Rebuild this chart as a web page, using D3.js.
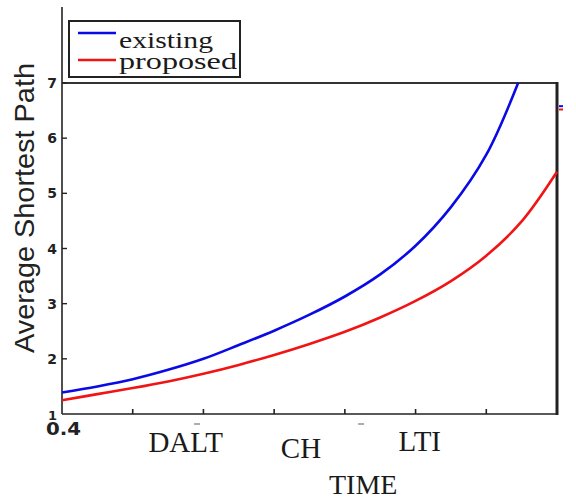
<!DOCTYPE html>
<html>
<head>
<meta charset="utf-8">
<script src="https://cdn.jsdelivr.net/npm/d3@7"></script>
<style>
  body { margin: 0; background: #fff; }
  svg { display: block; }
</style>
</head>
<body>
<svg id="chart" width="576" height="497"></svg>
<script>
// values
const timeX     = [0.4, 0.45, 0.5, 0.55, 0.6, 0.65, 0.7, 0.75, 0.8, 0.85, 0.9, 0.95, 1.0, 1.045];
const existing  = [1.39, 1.5, 1.63, 1.8, 2.0, 2.25, 2.51, 2.8, 3.13, 3.53, 4.05, 4.75, 5.7, 7.0];

const timeX2    = [0.4, 0.45, 0.5, 0.55, 0.6, 0.65, 0.7, 0.75, 0.8, 0.85, 0.9, 0.95, 1.0, 1.05, 1.1];
const proposed  = [1.25, 1.36, 1.47, 1.59, 1.73, 1.89, 2.07, 2.27, 2.49, 2.75, 3.05, 3.41, 3.87, 4.49, 5.39];

const yTicks    = [2, 3, 4, 5, 6, 7];
const xTicks    = [0.5, 0.6, 0.7, 0.8, 0.9, 1.0];
const catLabels = ["DALT", "CH", "LTI"];
const catAt     = [0.575, 0.738, 0.906];
const seriesNames = ["existing", "proposed"];
const seriesColors = ["#0a0ae6", "#f01414"];

const svg = d3.select("#chart");

const x = d3.scaleLinear().domain([0.4, 1.1]).range([62, 557]);
const y = d3.scaleLinear().domain([1, 7]).range([414, 83]);

// frame
svg.append("line") // left axis, runs above the plot
  .attr("x1", 62).attr("x2", 62).attr("y1", 7).attr("y2", y(1))
  .attr("stroke", "#222").attr("stroke-width", 1.6);
svg.append("line")
  .attr("x1", 62).attr("x2", x(1.1)).attr("y1", y(1)).attr("y2", y(1))
  .attr("stroke", "#222").attr("stroke-width", 1.6);
svg.append("line")
  .attr("x1", 62).attr("x2", x(1.1)).attr("y1", y(7)).attr("y2", y(7))
  .attr("stroke", "#333").attr("stroke-width", 2);
svg.append("line") // thick right edge
  .attr("x1", x(1.1)).attr("x2", x(1.1)).attr("y1", y(7) - 1).attr("y2", y(1) + 1)
  .attr("stroke", "#222").attr("stroke-width", 3);

// ticks
svg.selectAll(".yt").data(yTicks).enter().append("line")
  .attr("x1", 62).attr("x2", 67)
  .attr("y1", d => y(d)).attr("y2", d => y(d))
  .attr("stroke", "#222").attr("stroke-width", 1.4);
svg.selectAll(".xt").data(xTicks).enter().append("line")
  .attr("x1", d => x(d)).attr("x2", d => x(d))
  .attr("y1", y(1)).attr("y2", y(1) - 5)
  .attr("stroke", "#222").attr("stroke-width", 1.6);

svg.selectAll(".yl").data(yTicks).enter().append("text")
  .attr("x", 57).attr("y", d => y(d))
  .attr("dy", "0.36em")
  .attr("text-anchor", "end")
  .attr("font-family", "DejaVu Sans").attr("font-weight", "bold")
  .attr("font-size", 14).attr("fill", "#222")
  .text(d => d);

svg.append("text")
  .attr("x", 57).attr("y", 420)
  .attr("text-anchor", "end")
  .attr("font-family", "DejaVu Sans").attr("font-weight", "bold")
  .attr("font-size", 13).attr("fill", "#222")
  .text("1");
svg.append("text")
  .attr("x", 46).attr("y", 435)
  .attr("font-family", "DejaVu Sans").attr("font-weight", "bold")
  .attr("font-size", 17).attr("fill", "#222")
  .attr("textLength", 35).attr("lengthAdjust", "spacingAndGlyphs")
  .text("0.4");

// small leftover dashes under the axis
svg.selectAll(".dash").data([0.591, 0.823]).enter().append("line")
  .attr("x1", d => x(d) - 3).attr("x2", d => x(d) + 3)
  .attr("y1", 424).attr("y2", 424)
  .attr("stroke", "#777").attr("stroke-width", 1.2);

// category labels
const catBase = [452, 458, 451];
svg.selectAll(".cat").data(catLabels).enter().append("text")
  .attr("x", (d, i) => x(catAt[i]))
  .attr("y", (d, i) => catBase[i])
  .attr("text-anchor", "middle")
  .attr("font-family", "Liberation Serif").attr("font-size", 29)
  .attr("fill", "#1a1a1a")
  .text(d => d);

svg.append("text")
  .attr("x", x(0.826)).attr("y", 494)
  .attr("text-anchor", "middle")
  .attr("font-family", "Liberation Serif").attr("font-size", 28)
  .attr("fill", "#1a1a1a")
  .text("TIME");

svg.append("text")
  .attr("transform", "translate(34," + 208 + ") rotate(-90)")
  .attr("text-anchor", "middle")
  .attr("font-family", "Liberation Sans").attr("font-size", 28)
  .attr("fill", "#222")
  .attr("textLength", 290).attr("lengthAdjust", "spacingAndGlyphs")
  .text("Average Shortest Path");

// curves
const line = d3.line()
  .x(d => x(d[0]))
  .y(d => y(d[1]))
  .curve(d3.curveCatmullRom.alpha(0.5));

const series = [d3.zip(timeX, existing), d3.zip(timeX2, proposed)];

svg.selectAll(".curve").data(series).enter().append("path")
  .attr("d", line)
  .attr("fill", "none")
  .attr("stroke", (d, i) => seriesColors[i])
  .attr("stroke-width", 2.6);

// little marks beside the right edge
svg.selectAll(".edge").data([6.58, 6.52]).enter().append("line")
  .attr("x1", x(1.1) + 2).attr("x2", x(1.1) + 6)
  .attr("y1", d => y(d)).attr("y2", d => y(d))
  .attr("stroke", (d, i) => seriesColors[i]).attr("stroke-width", 2);

// legend
const legend = svg.append("g");
legend.append("rect")
  .attr("x", 69).attr("y", 21).attr("width", 171).attr("height", 56)
  .attr("fill", "#fff").attr("stroke", "#222").attr("stroke-width", 2);

const legY = [33, 60];
const legBase = [48, 69];
const legLen = [94, 118];
legend.selectAll(".lk").data(seriesNames).enter().append("line")
  .attr("x1", 78).attr("x2", 116)
  .attr("y1", (d, i) => legY[i]).attr("y2", (d, i) => legY[i])
  .attr("stroke", (d, i) => seriesColors[i]).attr("stroke-width", 2.6);
legend.selectAll(".lt").data(seriesNames).enter().append("text")
  .attr("x", 119).attr("y", (d, i) => legBase[i])
  .attr("font-family", "Liberation Serif").attr("font-size", 24)
  .attr("fill", "#1a1a1a")
  .attr("textLength", (d, i) => legLen[i]).attr("lengthAdjust", "spacingAndGlyphs")
  .text(d => d);
</script>
</body>
</html>
